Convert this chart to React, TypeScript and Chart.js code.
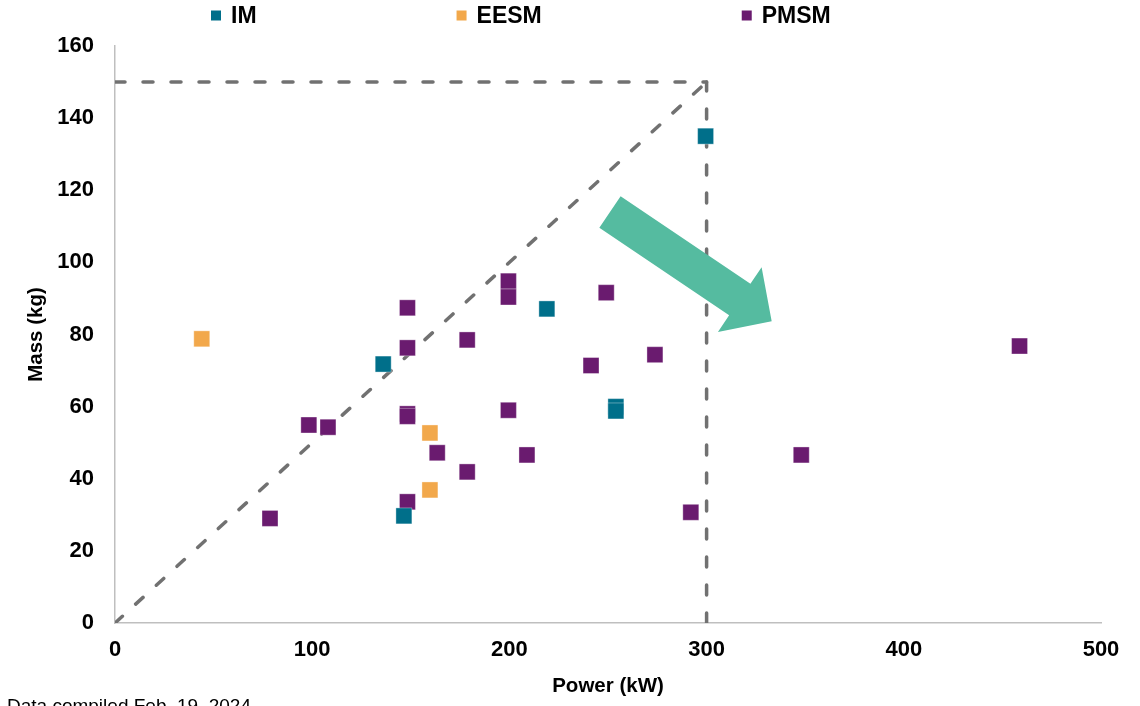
import { useEffect, useRef } from "react";
import { Chart, registerables } from "chart.js";

Chart.register(...registerables);

// ---- Data ----
const seriesNames = ["IM", "EESM", "PMSM"];
const seriesColors = ["#006F8A", "#F2A84B", "#6A1B6F"];

const imPower = [136, 146.5, 219, 254, 254, 299.5];
const imMass = [71.8, 29.7, 87.1, 60, 58.8, 135];

const eesmPower = [44, 159.7, 159.7];
const eesmMass = [78.8, 52.7, 36.9];

const pmsmPower = [78.6, 98.3, 108, 148.3, 148.3, 148.3, 148.3, 148.3, 163.4, 178.6, 178.6, 199.5, 199.5, 199.5, 208.9, 241.4, 249.1, 273.8, 292, 348, 458.7];
const pmsmMass = [29, 54.9, 54.3, 87.4, 76.3, 58, 57.3, 33.6, 47.2, 78.5, 41.9, 94.8, 90.4, 59, 46.6, 71.4, 91.6, 74.4, 30.7, 46.6, 76.8];

const xTickValues = [0, 100, 200, 300, 400, 500];
const yTickValues = [0, 20, 40, 60, 80, 100, 120, 140, 160];

const guideDiagonal = [[0, 0], [300, 150]];
const guideHorizontal = [[0, 150], [300, 150]];
const guideVertical = [[300, 0], [300, 150]];

const arrowTail = [251, 114];
const arrowTip = [333, 83.7];

const xTitle = "Power (kW)";
const yTitle = "Mass (kg)";
const footnote = "Data compiled Feb. 19, 2024";

const FONT = "'Liberation Sans', Arial, sans-serif";

const toPoints = (xs: number[], ys: number[]) => xs.map((x, i) => ({ x, y: ys[i] }));
const toPairs = (pairs: number[][]) => pairs.map(([x, y]) => ({ x, y }));

const legendPlugin = {
  id: "customLegend",
  afterDraw(chart: any) {
    const ctx = chart.ctx;
    ctx.save();
    ctx.font = `bold 23px ${FONT}`;
    ctx.textBaseline = "middle";
    ctx.textAlign = "left";
    let x = 211;
    const y = 15.5;
    seriesNames.forEach((name, i) => {
      ctx.fillStyle = seriesColors[i];
      ctx.fillRect(x, y - 5, 10, 10);
      ctx.fillStyle = "#000";
      ctx.fillText(name, x + 20, y + 1);
      x += 20 + ctx.measureText(name).width + 200;
    });
    ctx.font = `19px ${FONT}`;
    ctx.textBaseline = "alphabetic";
    ctx.fillText(footnote, 7, 712);
    ctx.restore();
  },
};

const arrowPlugin = {
  id: "bigArrow",
  afterDatasetsDraw(chart: any) {
    const { ctx, scales } = chart;
    const x0 = scales.x.getPixelForValue(arrowTail[0]);
    const y0 = scales.y.getPixelForValue(arrowTail[1]);
    const x1 = scales.x.getPixelForValue(arrowTip[0]);
    const y1 = scales.y.getPixelForValue(arrowTip[1]);
    const dx = x1 - x0;
    const dy = y1 - y0;
    const len = Math.hypot(dx, dy);
    const ux = dx / len;
    const uy = dy / len;
    const px = -uy;
    const py = ux;
    const shaftHalf = 19;
    const headHalf = 39;
    const headLen = 38.5;
    const bx = x1 - ux * headLen;
    const by = y1 - uy * headLen;
    ctx.save();
    ctx.fillStyle = "#55BBA0";
    ctx.beginPath();
    ctx.moveTo(x0 + px * shaftHalf, y0 + py * shaftHalf);
    ctx.lineTo(bx + px * shaftHalf, by + py * shaftHalf);
    ctx.lineTo(bx + px * headHalf, by + py * headHalf);
    ctx.lineTo(x1, y1);
    ctx.lineTo(bx - px * headHalf, by - py * headHalf);
    ctx.lineTo(bx - px * shaftHalf, by - py * shaftHalf);
    ctx.lineTo(x0 - px * shaftHalf, y0 - py * shaftHalf);
    ctx.closePath();
    ctx.fill();
    ctx.restore();
  },
};

export default function App() {
  const canvasRef = useRef<HTMLCanvasElement | null>(null);

  useEffect(() => {
    document.body.style.margin = "0";
    const canvas = canvasRef.current;
    if (!canvas) return;

    const pointDs = (label: string, data: any[], color: string) => ({
      type: "scatter" as const,
      label,
      data,
      backgroundColor: color,
      borderColor: "rgba(255,255,255,0.35)",
      pointStyle: "rect",
      pointRadius: 11.3,
      pointHoverRadius: 11.3,
      pointBorderWidth: 1,
      showLine: false,
      order: 0,
    });

    const guideDs = (label: string, data: any[]) => ({
      type: "scatter" as const,
      label,
      data,
      showLine: true,
      borderColor: "#717171",
      borderWidth: 3.5,
      borderDash: [10, 18],
      borderCapStyle: "round",
      pointRadius: 0,
      pointHoverRadius: 0,
      fill: false,
      order: 10,
    });

    const chart = new Chart(canvas, {
      type: "scatter",
      data: {
        datasets: [
          pointDs(seriesNames[0], toPoints(imPower, imMass), seriesColors[0]),
          pointDs(seriesNames[1], toPoints(eesmPower, eesmMass), seriesColors[1]),
          pointDs(seriesNames[2], toPoints(pmsmPower, pmsmMass), seriesColors[2]),
          guideDs("diag", toPairs(guideDiagonal)),
          guideDs("horiz", toPairs(guideHorizontal)),
          guideDs("vert", toPairs(guideVertical)),
        ] as any,
      },
      options: {
        responsive: false,
        animation: false,
        layout: { padding: { left: 0, right: 39, top: 46, bottom: 0 } },
        plugins: {
          legend: { display: false },
          tooltip: { enabled: false },
        },
        scales: {
          x: {
            type: "linear",
            min: 0,
            max: 500,
            afterBuildTicks: (scale: any) => {
              scale.ticks = xTickValues.map((v) => ({ value: v }));
            },
            afterFit: (scale: any) => {
              scale.height = 83;
            },
            ticks: {
              color: "#000",
              padding: 14,
              font: { family: FONT, size: 22, weight: "bold" },
            },
            grid: { display: true, color: "transparent", drawTicks: false },
            border: { display: true, color: "#BFBFBF", width: 1.5 },
            title: {
              display: true,
              text: xTitle,
              color: "#000",
              font: { family: FONT, size: 20.5, weight: "bold" },
              padding: { top: 0, bottom: 7 },
            },
          },
          y: {
            type: "linear",
            min: 0,
            max: 160,
            afterBuildTicks: (scale: any) => {
              scale.ticks = yTickValues.map((v) => ({ value: v }));
            },
            afterFit: (scale: any) => {
              scale.width = 115;
            },
            ticks: {
              color: "#000",
              padding: 21,
              font: { family: FONT, size: 22, weight: "bold" },
            },
            grid: { display: true, color: "transparent", drawTicks: false },
            border: { display: true, color: "#BFBFBF", width: 1.5 },
            title: {
              display: true,
              text: yTitle,
              color: "#000",
              font: { family: FONT, size: 20.5, weight: "bold" },
              padding: { top: 24, bottom: 0 },
            },
          },
        },
      } as any,
      plugins: [arrowPlugin, legendPlugin],
    });

    return () => {
      chart.destroy();
    };
  }, []);

  return (
    <div style={{ width: 1140, height: 706, position: "relative" }}>
      <canvas ref={canvasRef} width={1140} height={706} style={{ display: "block" }} />
    </div>
  );
}
